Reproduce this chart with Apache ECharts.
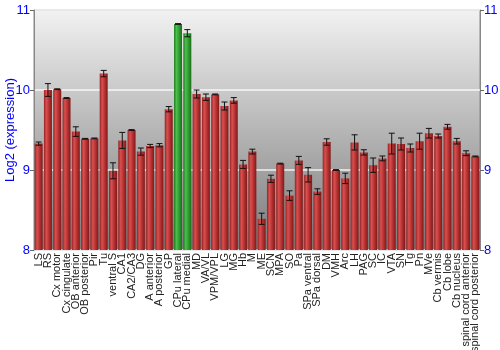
<!DOCTYPE html>
<html><head><meta charset="utf-8">
<script src="https://cdn.jsdelivr.net/npm/echarts@6/dist/echarts.min.js"></script>
<style>html,body{margin:0;padding:0;background:#fff}#c{width:500px;height:350px}</style>
</head><body><div id="c"></div>
<script>
var categories = ["LS","RS","Cx motor","Cx cingulate","OB anterior","OB posterior","Pir","Tu","ventral S","CA1","CA2/CA3","DG","A anterior","A posterior","GP","CPu lateral","CPu medial","MD","VA/VL","VPM/VPL","LG","MG","Hb","M","ME","SCN","MPA","SO","Pa","SPa ventral","SPa dorsal","DM","VMH","Arc","LH","PAG","SC","IC","VTA","SN","Tg","Pn","MVe","Cb vermis","Cb lobe","Cb nucleus","spinal cord anterior","spinal cord posterior"];
var values = [9.33,10.0,10.01,9.90,9.48,9.39,9.395,10.205,8.99,9.37,9.50,9.23,9.30,9.31,9.76,10.825,10.71,9.95,9.91,9.945,9.80,9.87,9.07,9.23,8.39,8.89,9.08,8.68,9.12,8.94,8.73,9.35,9.0,8.895,9.345,9.22,9.06,9.145,9.33,9.325,9.275,9.36,9.46,9.425,9.54,9.36,9.21,9.17];
var errors = [0.02,0.08,0.005,0.005,0.06,0.005,0.005,0.04,0.1,0.1,0.005,0.045,0.02,0.02,0.033,0.005,0.045,0.05,0.04,0.005,0.05,0.035,0.05,0.03,0.07,0.045,0.005,0.06,0.05,0.09,0.035,0.04,0.005,0.065,0.095,0.033,0.09,0.03,0.13,0.075,0.05,0.1,0.06,0.025,0.03,0.035,0.03,0.005];
var highlighted = ["CPu lateral","CPu medial"];
var yTicks = [8,9,10,11];

var redGrad = new echarts.graphic.LinearGradient(0,0,1,0,[
  {offset:0,color:'#962222'},{offset:0.3,color:'#d85050'},{offset:0.55,color:'#c03838'},{offset:1,color:'#801818'}]);
var greenGrad = new echarts.graphic.LinearGradient(0,0,1,0,[
  {offset:0,color:'#1f7a1f'},{offset:0.3,color:'#4cc04c'},{offset:0.55,color:'#36a536'},{offset:1,color:'#1c6e1c'}]);

var barData = values.map(function(v,i){
  return {value:v, itemStyle:{color: highlighted.indexOf(categories[i])>=0 ? greenGrad : redGrad}};
});
var errData = values.map(function(v,i){ return [i, v-errors[i], v+errors[i]]; });

var chart = echarts.init(document.getElementById('c'));
var yAxisCommon = {
  type:'value', min:8, max:11, interval:1,
  axisLine:{show:true, lineStyle:{color:'#888'}},
  axisTick:{show:true, length:4, lineStyle:{color:'#666'}},
  axisLabel:{color:'#0000ff', fontSize:13, fontFamily:'Liberation Sans', margin:4,
    formatter:function(v){return yTicks.indexOf(v)>=0 ? String(v) : '';}},
};
chart.setOption({
  animation:false,
  grid:{left:34, right:20, top:10, bottom:100, show:true, containLabel:false, outerBoundsMode:'none',
    backgroundColor:new echarts.graphic.LinearGradient(0,0,0,1,[{offset:0,color:'#f2f2f2'},{offset:1,color:'#7a7a7a'}]),
    borderColor:'#888', borderWidth:1},
  xAxis:{type:'category', data:categories,
    axisLine:{show:false}, axisTick:{show:false},
    axisLabel:{rotate:90, interval:0, fontSize:11, color:'#222', fontFamily:'Liberation Sans', margin:3}},
  yAxis:[
    Object.assign({}, yAxisCommon, {position:'left', name:'Log2 (expression)', nameLocation:'middle', nameGap:17, nameMoveOverlap:false,
      nameTextStyle:{color:'#0000ff', fontSize:13, fontFamily:'Liberation Sans'},
      splitLine:{show:true, lineStyle:{color:'#ffffff', width:1.5, opacity:0.85}}}),
    Object.assign({}, yAxisCommon, {position:'right', splitLine:{show:false}})
  ],
  series:[
    {type:'bar', data:barData, barCategoryGap:'14%'},
    {type:'custom', data:errData, z:10,
      renderItem:function(params, api){
        var x = api.value(0);
        var lo = api.coord([x, api.value(1)]);
        var hi = api.coord([x, api.value(2)]);
        var w = 3;
        var st = {stroke:'#111', lineWidth:1};
        return {type:'group', children:[
          {type:'line', shape:{x1:lo[0],y1:lo[1],x2:hi[0],y2:hi[1]}, style:st},
          {type:'line', shape:{x1:lo[0]-w,y1:lo[1],x2:lo[0]+w,y2:lo[1]}, style:st},
          {type:'line', shape:{x1:hi[0]-w,y1:hi[1],x2:hi[0]+w,y2:hi[1]}, style:st}
        ]};
      }}
  ]
});
</script></body></html>
